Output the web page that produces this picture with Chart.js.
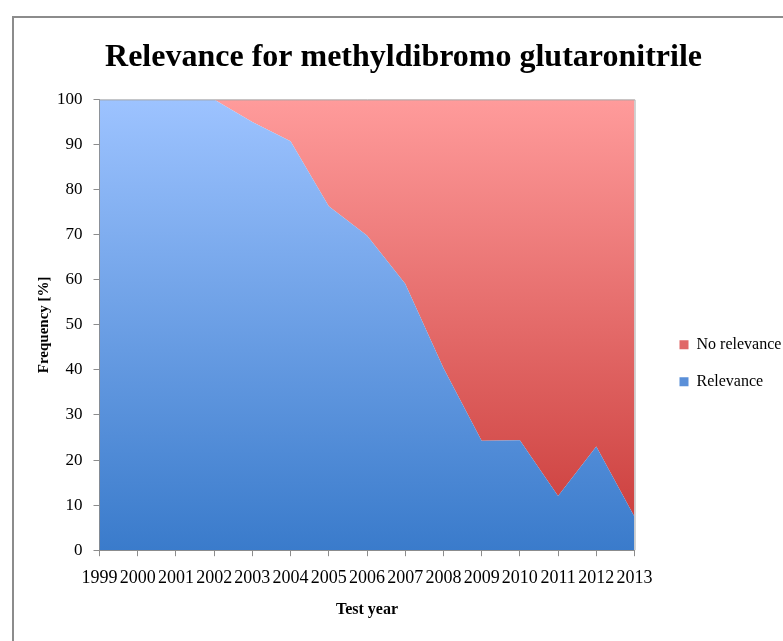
<!DOCTYPE html>
<html>
<head>
<meta charset="utf-8">
<script src="https://cdn.jsdelivr.net/npm/chart.js@4.4.0/dist/chart.umd.min.js"></script>
<style>
  html, body { margin: 0; padding: 0; background: #fff; }
  #wrap { position: relative; width: 783px; height: 641px; }
  #frame { position: absolute; left: 12px; top: 16px; right: 0; bottom: 0;
           border-top: 2px solid #8c8c8c; border-left: 2px solid #8c8c8c; }
  canvas { position: absolute; left: 0; top: 0; }
</style>
</head>
<body>
<div id="wrap">
  <div id="frame"></div>
  <canvas id="chart" width="783" height="641"></canvas>
</div>
<script>
// test years on the x axis
const years = ['1999', '2000', '2001', '2002', '2003', '2004', '2005', '2006',
               '2007', '2008', '2009', '2010', '2011', '2012', '2013'];
// share of tests with relevance (%)
const relevance = [100, 100, 100, 100, 95.0, 90.7, 76.3, 69.8, 59.1, 40.4, 24.3, 24.4, 12.0, 23.0, 7.4];
// share with no relevance (%)
const noRelevance = [0, 0, 0, 0, 5.0, 9.3, 23.7, 30.2, 40.9, 59.6, 75.7, 75.6, 88.0, 77.0, 92.6];
const yTicks = [0, 10, 20, 30, 40, 50, 60, 70, 80, 90, 100];

const serif = "'Liberation Serif', 'Times New Roman', serif";

function vGradient(ctx, area, top, bottom) {
  const g = ctx.createLinearGradient(0, area.top, 0, area.bottom);
  g.addColorStop(0, top);
  g.addColorStop(1, bottom);
  return g;
}

const plotFrame = {
  id: 'plotFrame',
  afterDatasetsDraw(chart) {
    const { ctx, chartArea: a } = chart;
    ctx.save();
    ctx.strokeStyle = '#a6a6a6';
    ctx.lineWidth = 1;
    ctx.beginPath();
    ctx.moveTo(a.left, a.top + 0.5);
    ctx.lineTo(a.right + 0.5, a.top + 0.5);
    ctx.lineTo(a.right + 0.5, a.bottom);
    ctx.stroke();
    ctx.restore();
  }
};

new Chart(document.getElementById('chart'), {
  type: 'line',
  data: {
    labels: years,
    datasets: [
      {
        label: 'Relevance',
        data: relevance,
        fill: 'origin',
        borderWidth: 0,
        pointRadius: 0,
        tension: 0,
        backgroundColor: (c) => {
          const a = c.chart.chartArea;
          if (!a) return '#4f86d0';
          return vGradient(c.chart.ctx, a, '#9dc3ff', '#3a7bcb');
        }
      },
      {
        label: 'No relevance',
        data: noRelevance,
        fill: '-1',
        borderWidth: 0,
        pointRadius: 0,
        tension: 0,
        backgroundColor: (c) => {
          const a = c.chart.chartArea;
          if (!a) return '#e06060';
          return vGradient(c.chart.ctx, a, '#ff9b9b', '#c93a38');
        }
      }
    ]
  },
  options: {
    responsive: false,
    animation: false,
    layout: { padding: { top: 39, right: -3, left: 21, bottom: 18 } },
    plugins: {
      title: {
        display: true,
        text: 'Relevance for methyldibromo glutaronitrile',
        color: '#000',
        font: { family: serif, size: 32, weight: 'bold' },
        padding: { top: 0, bottom: 22 }
      },
      legend: {
        position: 'right',
        reverse: true,
        title: { display: true, text: ' ', color: '#000', font: { size: 12 }, padding: { top: 50, bottom: 0 } },
        labels: {
          color: '#000',
          font: { family: serif, size: 16 },
          boxWidth: 9,
          boxHeight: 9,
          padding: 21,
          generateLabels: (chart) => chart.data.datasets.map((ds, i) => ({
            text: ds.label,
            fontColor: '#000',
            fillStyle: i === 0 ? '#5a8fd8' : '#e06868',
            strokeStyle: i === 0 ? '#5a8fd8' : '#e06868',
            lineWidth: 0,
            datasetIndex: i
          }))
        }
      },
      tooltip: { enabled: false }
    },
    scales: {
      x: {
        offset: false,
        grid: { drawOnChartArea: false, drawTicks: true, tickLength: 6, color: '#8c8c8c' },
        border: { color: '#8c8c8c' },
        ticks: { color: '#000', font: { family: serif, size: 18 }, maxRotation: 0, autoSkip: false, padding: 11 },
        title: { display: true, text: 'Test year', color: '#000',
                 font: { family: serif, size: 16, weight: 'bold' }, padding: { top: 0 } }
      },
      y: {
        stacked: true,
        min: 0,
        max: 100,
        afterBuildTicks: (s) => { s.ticks = yTicks.map(v => ({ value: v })); },
        grid: { drawOnChartArea: false, drawTicks: true, tickLength: 6, color: '#8c8c8c' },
        border: { color: '#8c8c8c' },
        ticks: { color: '#000', font: { family: serif, size: 17 }, padding: 11 },
        title: { display: true, text: 'Frequency [%]', color: '#000',
                 font: { family: serif, size: 15, weight: 'bold' }, padding: { top: 14, bottom: -7 } }
      },
      gap: {
        position: 'right',
        display: true,
        afterFit: (s) => { s.width = 24; },
        grid: { display: false },
        border: { display: false },
        ticks: { display: false }
      }
    }
  },
  plugins: [plotFrame]
});
</script>
</body>
</html>
